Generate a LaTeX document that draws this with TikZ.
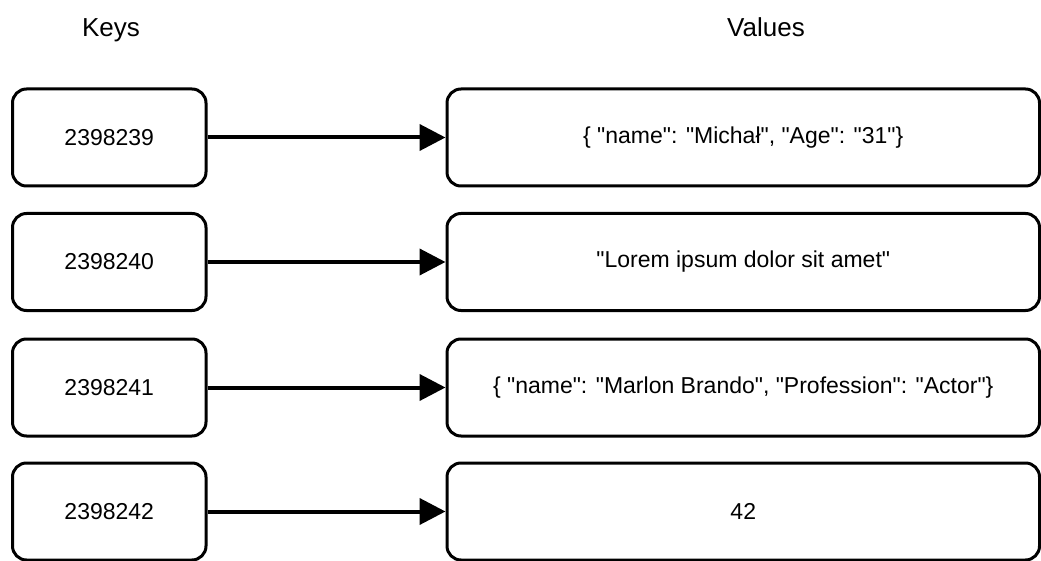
\documentclass[tikz,border=0pt]{standalone}
\usepackage{fontspec}
% straight ASCII quotes, no TeX-style curly substitution
\setmainfont{Liberation Sans}[Ligatures=TeXOff]
\usetikzlibrary{arrows.meta}

\tikzset{
  keybox/.style={draw=black, line width=3pt, rounded corners=14pt,
    minimum width=193.5pt, minimum height=97pt, inner sep=0pt},
  valbox/.style={draw=black, line width=3pt, rounded corners=14pt,
    minimum width=592.5pt, minimum height=97pt, inner sep=0pt},
  link/.style={line width=4pt, -{Triangle[length=26pt,width=26pt]}},
  heading/.style={inner sep=0pt, anchor=base, font=\fontsize{26}{30}\selectfont},
}

\begin{document}
\begin{tikzpicture}[x=1pt, y=-1pt, font=\fontsize{23}{27}\selectfont]
  \useasboundingbox (0,0) rectangle (1041,561);

  % column headings
  \node[heading] (hkeys) at (111,37) {Keys};
  \node[heading] (hvals) at (766,37) {Values};

  % keys
  \node[keybox] (k1) at (109.25,137.5) {2398239};
  \node[keybox] (k2) at (109.25,262)   {2398240};
  \node[keybox] (k3) at (109.25,387.5) {2398241};
  \node[keybox] (k4) at (109.25,511.5) {2398242};

  % values
  \node[valbox] (v1) at (743.25,137.5) {\{ "name": "Michał", "Age": "31"\}};
  \node[valbox] (v2) at (743.25,262)   {"Lorem ipsum dolor sit amet"};
  \node[valbox] (v3) at (743.25,387.5) {\{ "name": "Marlon Brando", "Profession": "Actor"\}};
  \node[valbox] (v4) at (743.25,511.5) {42};

  % key -> value links
  \draw[link] (k1.east) -- (v1.west);
  \draw[link] (k2.east) -- (v2.west);
  \draw[link] (k3.east) -- (v3.west);
  \draw[link] (k4.east) -- (v4.west);
\end{tikzpicture}
\end{document}
